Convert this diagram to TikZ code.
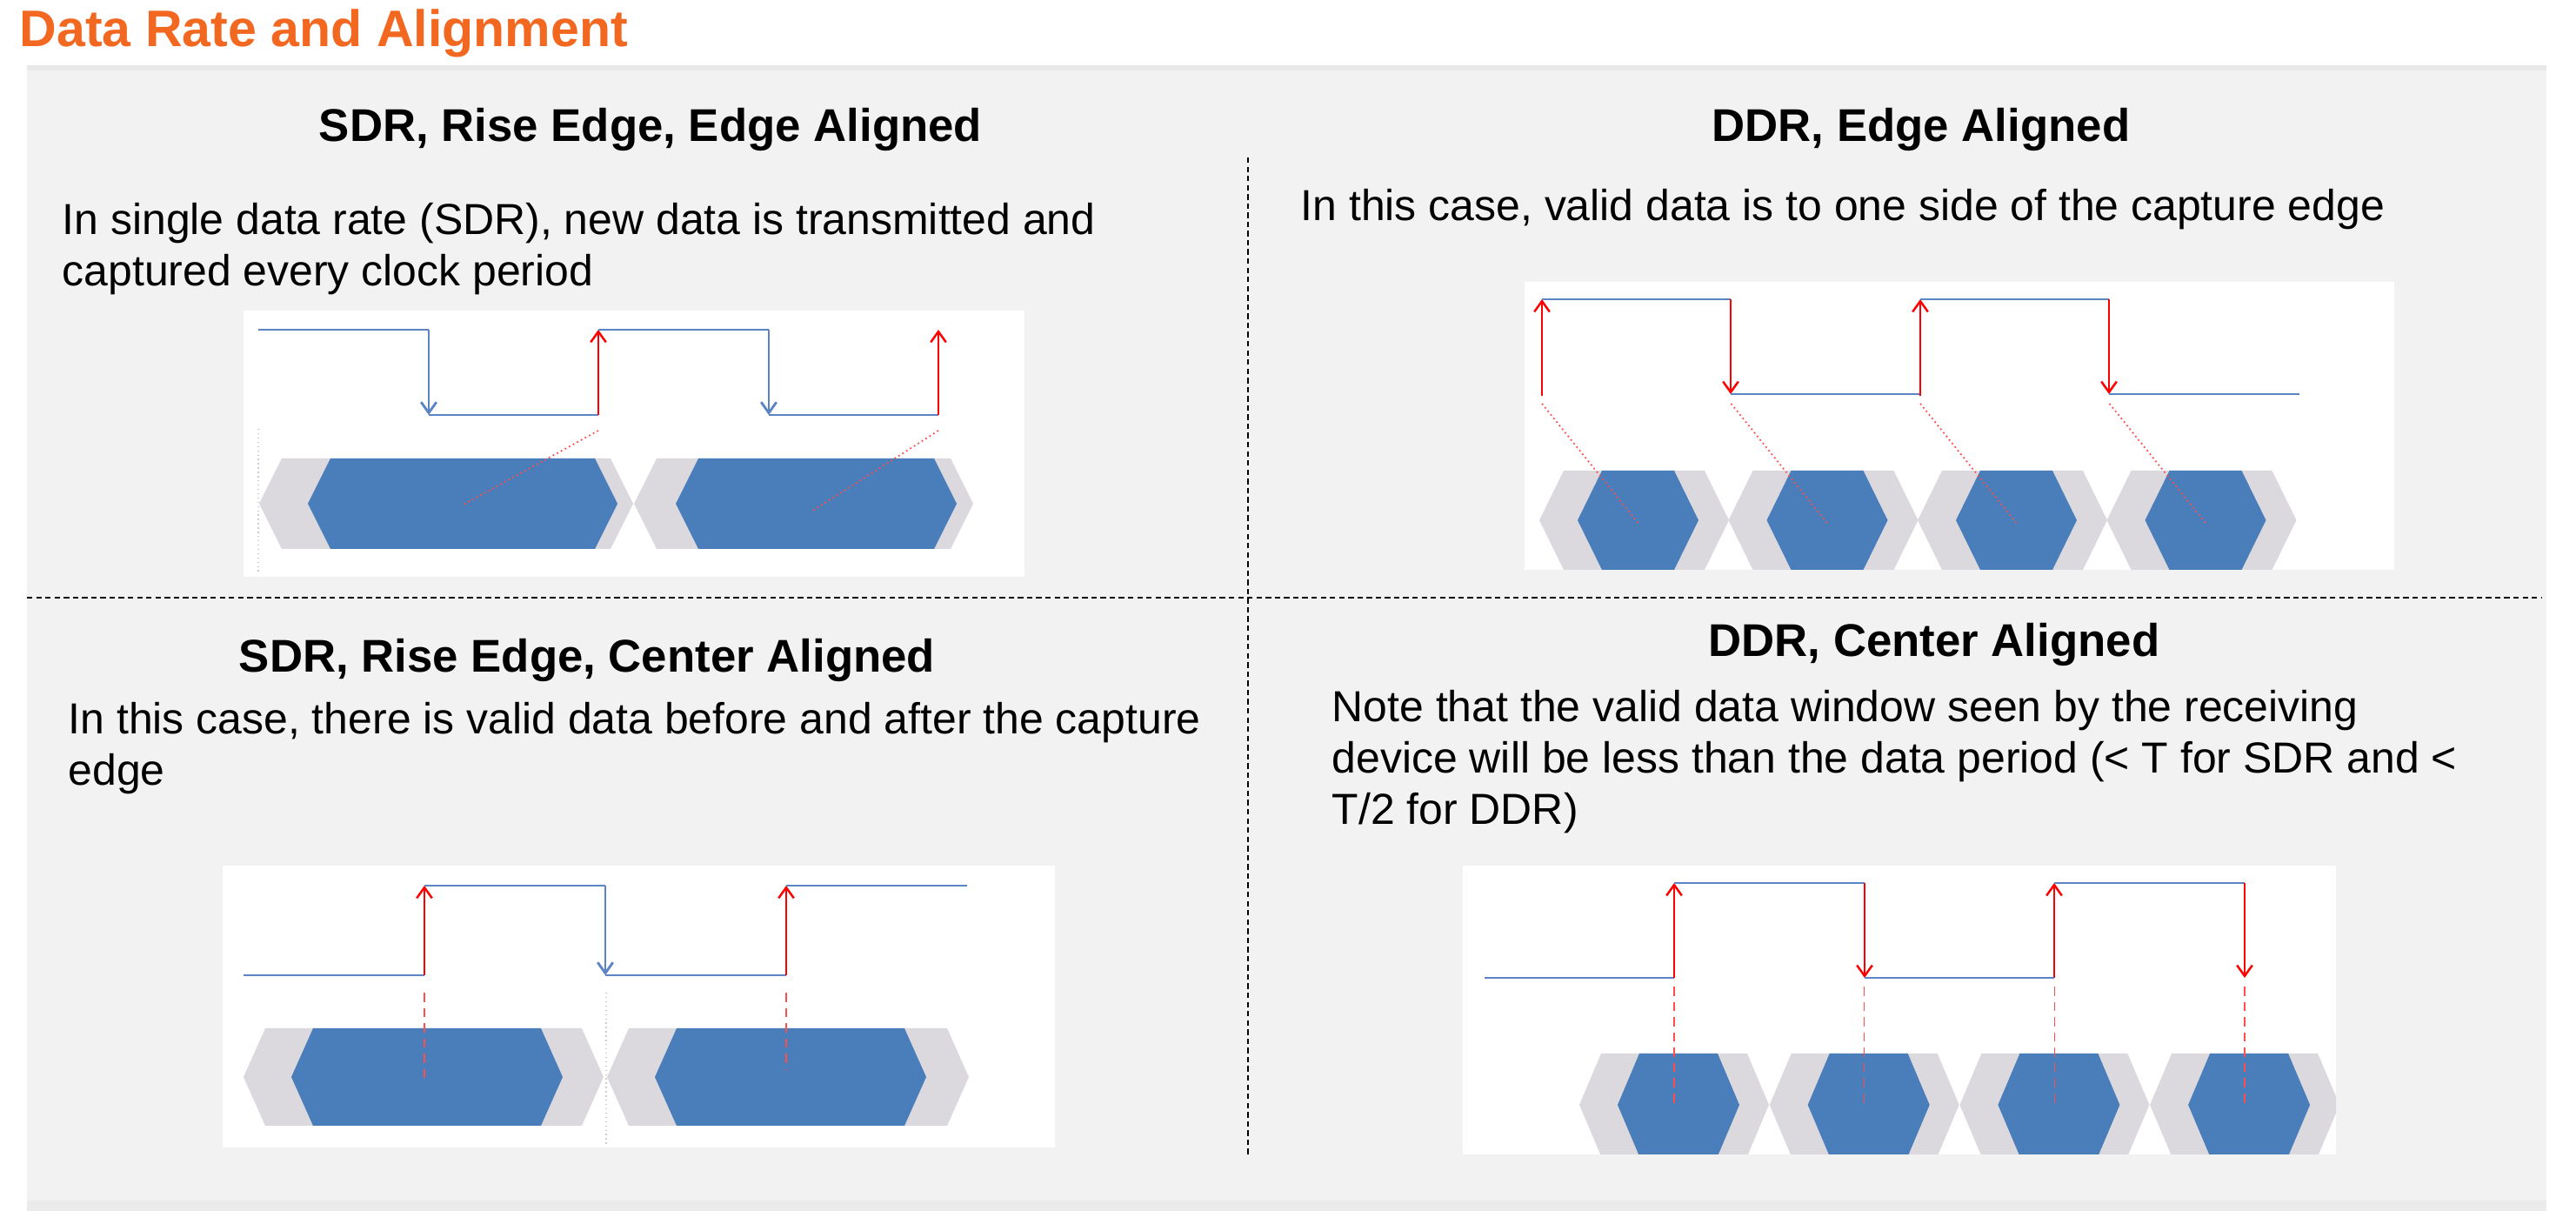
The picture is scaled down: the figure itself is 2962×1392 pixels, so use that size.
\documentclass[tikz,border=0pt]{standalone}
\usepackage{fontspec}
\setmainfont{Liberation Sans}
\usetikzlibrary{arrows.meta, positioning}
\definecolor{titleorange}{RGB}{243,104,33}
\definecolor{clkblue}{RGB}{91,132,196}
\definecolor{hexblue}{RGB}{74,126,187}
\definecolor{hexgray}{RGB}{220,217,222}
\definecolor{panelgray}{RGB}{242,242,242}
\definecolor{edgered}{RGB}{255,0,0}
% data eye: fill, left tip, right tip, middle, half height, slant
\newcommand{\datahex}[6]{%
  \fill[#1] (#2,#4) -- (#2+#6,#4-#5) -- (#3-#6,#4-#5) -- (#3,#4) -- (#3-#6,#4+#5) -- (#2+#6,#4+#5) -- cycle;}

\begin{document}
\begin{tikzpicture}[x=0.01cm, y=-0.01cm, >={Straight Barb[length=3.5pt,width=5pt]},
    clk/.style={clkblue, line width=0.8pt},
    redge/.style={edgered, line width=0.7pt},
    guide/.style={red!70, line width=0.5pt, densely dotted},
    divider/.style={black, line width=0.5pt, dash pattern=on 1.8pt off 1.2pt},
    heading/.style={font=\fontsize{15}{18}\selectfont\bfseries, anchor=base, inner sep=0pt},
    body/.style={font=\fontsize{14.2}{16.9}\selectfont, anchor=base west, align=left, inner sep=0pt}]
    \useasboundingbox (0,0) rectangle (2962,1392);

    % background
    \fill[panelgray] (31,75) rectangle (2928,1380);
    \fill[black!9] (31,75) rectangle (2928,81);
    \fill[black!8] (31,1380) rectangle (2928,1392);
    \node[font=\fontsize{16.8}{20}\selectfont\bfseries, text=titleorange, anchor=base west, inner sep=0pt] (title) at (22,54) {Data Rate and Alignment};

    % dividers
    \draw[divider] (1435,181) -- (1435,1327);
    \draw[divider] (31,687) -- (2922,687);

    % SDR, edge aligned
    \node[heading] (h1) at (748,163) {SDR, Rise Edge, Edge Aligned};
    \node[body] (b1) at (71,329) {In single data rate (SDR), new data is transmitted and\\captured every clock period};
    \fill[white] (280,357) rectangle (1178,663);
    \draw[clk] (297,379) -- (493,379);
    \draw[clk,->] (493,379) -- (493,477);
    \draw[clk] (493,477) -- (688,477);
    \draw[redge,->] (688,477) -- (688,379);
    \draw[clk] (688,379) -- (884,379);
    \draw[clk,->] (884,379) -- (884,477);
    \draw[clk] (884,477) -- (1079,477);
    \draw[redge,->] (1079,477) -- (1079,379);
    \draw[gray!40, line width=0.4pt, densely dotted] (297,493) -- (297,658);
    \datahex{hexgray}{298}{728}{579}{52}{26}
    \datahex{hexblue}{354}{710}{579}{52}{26}
    \datahex{hexgray}{729}{1119}{579}{52}{26}
    \datahex{hexblue}{777}{1100}{579}{52}{26}
    \draw[guide] (688,495) -- (533,580);
    \draw[guide] (1079,495) -- (933,588);

    % DDR, edge aligned
    \node[heading] (h2) at (2209,163) {DDR, Edge Aligned};
    \node[body] (b2) at (1495,254) {In this case, valid data is to one side of the capture edge};
    \fill[white] (1753,324) rectangle (2753,655);
    \begin{scope}
        \clip (1753,324) rectangle (2753,655);
        \foreach \k in {0,...,3} {
            \datahex{hexgray}{1770+\k*217.5}{1988+\k*217.5}{598}{57}{28}
            \datahex{hexblue}{1814+\k*217.5}{1953+\k*217.5}{598}{57}{28}
            \draw[guide] (1773+\k*217.5,464) -- (1885+\k*217.5,603);
        }
    \end{scope}
    \foreach \k in {0,1} {
        \draw[redge,->] (1773+\k*435,455) -- (1773+\k*435,344);
        \draw[clk] (1773+\k*435,344) -- (1990+\k*435,344);
        \draw[redge,->] (1990+\k*435,344) -- (1990+\k*435,453);
        \draw[clk] (1990+\k*435,453) -- (2207+\k*437,453);
    }

    % SDR, center aligned
    \node[heading] (h3) at (675,773) {SDR, Rise Edge, Center Aligned};
    \node[body] (b3) at (78,903) {In this case, there is valid data before and after the capture\\edge};
    \fill[white] (256,995) rectangle (1213,1319);
    \draw[clk] (280,1121) -- (488,1121);
    \draw[redge,->] (488,1121) -- (488,1018);
    \draw[clk] (488,1018) -- (696,1018);
    \draw[clk,->] (696,1018) -- (696,1121);
    \draw[clk] (696,1121) -- (904,1121);
    \draw[redge,->] (904,1121) -- (904,1018);
    \draw[clk] (904,1018) -- (1112,1018);
    \datahex{hexgray}{280}{694}{1238}{56}{25}
    \datahex{hexblue}{335}{647}{1238}{56}{25}
    \datahex{hexgray}{698}{1114}{1238}{56}{25}
    \datahex{hexblue}{753}{1065}{1238}{56}{25}
    \draw[red!70, line width=0.4pt, densely dashed] (488,1141) -- (488,1241);
    \draw[red!70, line width=0.4pt, densely dashed] (904,1141) -- (904,1229);
    \draw[gray!40, line width=0.4pt, densely dotted] (697,1141) -- (697,1316);

    % DDR, center aligned
    \node[heading] (h4) at (2224,755) {DDR, Center Aligned};
    \node[body] (b4) at (1531,948) {Note that the valid data window seen by the receiving\\device will be less than the data period (< T for SDR and <\\T/2 for DDR)};
    \fill[white] (1682,995) rectangle (2686,1327);
    \begin{scope}
        \clip (1682,995) rectangle (2686,1327);
        \foreach \k in {0,...,3} {
            \datahex{hexgray}{1816+\k*218.7}{2034+\k*218.7}{1270}{59}{25}
            \datahex{hexblue}{1860+\k*218.7}{2000+\k*218.7}{1270}{59}{25}
            \draw[red!70, line width=0.4pt, densely dashed] (1925+\k*218.7,1134) -- (1925+\k*218.7,1270);
        }
    \end{scope}
    \draw[clk] (1707,1124) -- (1925,1124);
    \foreach \k in {0,1} {
        \draw[redge,->] (1925+\k*437,1124) -- (1925+\k*437,1015);
        \draw[clk] (1925+\k*437,1015) -- (2144+\k*437,1015);
        \draw[redge,->] (2144+\k*437,1015) -- (2144+\k*437,1124);
    }
    \draw[clk] (2144,1124) -- (2362,1124);
\end{tikzpicture}
\end{document}
